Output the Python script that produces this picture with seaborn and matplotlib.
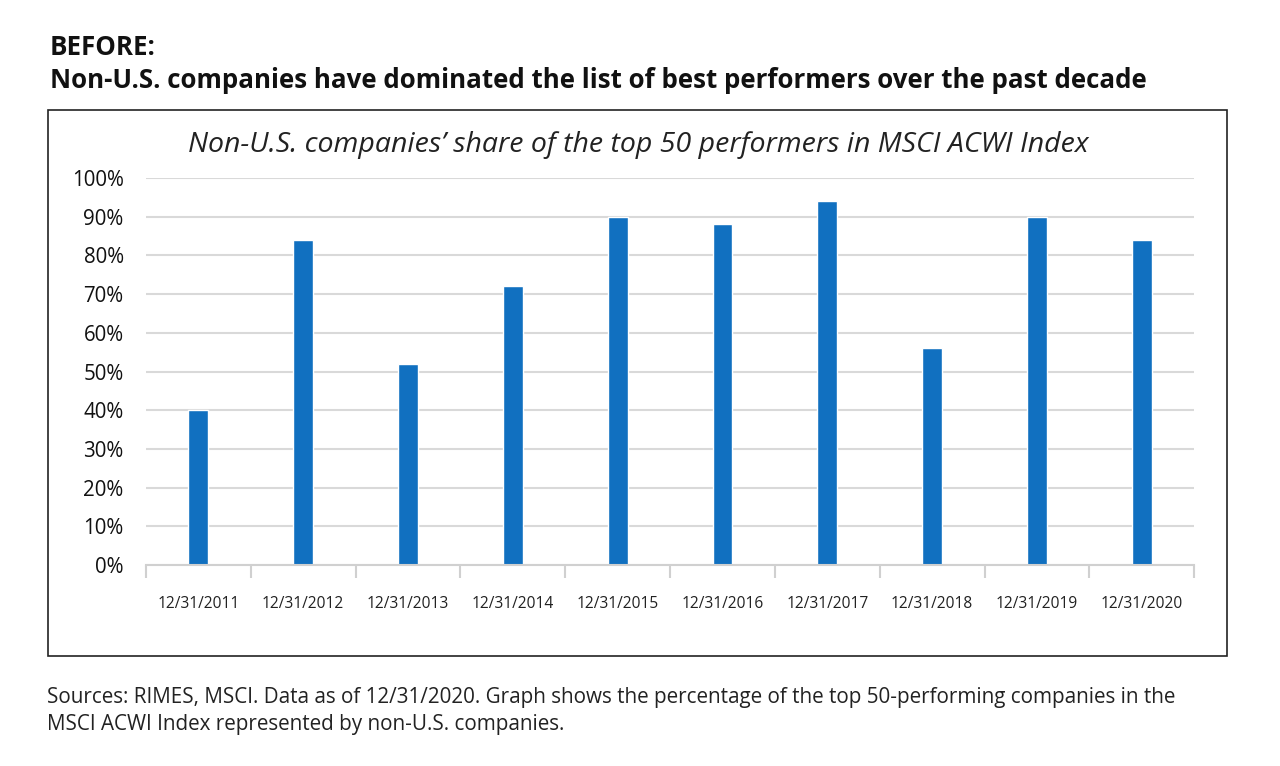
import numpy as np
import pandas as pd
import matplotlib
matplotlib.use("Agg")
import matplotlib.pyplot as plt
import seaborn as sns
from matplotlib.patches import Rectangle
from matplotlib.ticker import PercentFormatter, FixedLocator

# data
dates = ["12/31/2011", "12/31/2012", "12/31/2013", "12/31/2014", "12/31/2015",
         "12/31/2016", "12/31/2017", "12/31/2018", "12/31/2019", "12/31/2020"]
share = [0.40, 0.84, 0.52, 0.72, 0.90, 0.88, 0.94, 0.56, 0.90, 0.84]

df = pd.DataFrame({"date": dates, "share": share})

sns.set_theme(style="white")
plt.rcParams['font.family'] = ['Open Sans', 'DejaVu Sans']

fig = plt.figure(figsize=(12.8, 7.66), dpi=100)
ax = fig.add_axes([0.114, 0.2624, 0.819, 0.5052])

sns.barplot(data=df, x="date", y="share", color="#1170c0", width=0.19,
            saturation=1, ax=ax)

ax.set_ylim(0, 1.0)
ax.set_xlim(-0.5, len(dates) - 0.5)
ax.yaxis.set_major_locator(FixedLocator(np.arange(0, 1.01, 0.1)))
ax.yaxis.set_major_formatter(PercentFormatter(1.0, decimals=0))
ax.grid(axis="y", color="#d9d9d9", linewidth=1.5)
ax.set_axisbelow(True)
for s in ["top", "right", "left"]:
    ax.spines[s].set_visible(False)
ax.spines["bottom"].set_color("#d0d0d0")
ax.spines["bottom"].set_linewidth(1.5)

# small separator ticks between the date categories
ax.set_xticks(np.arange(-0.5, len(dates), 1.0), minor=True)
ax.tick_params(axis="x", which="minor", length=9, width=1.5, color="#d0d0d0",
               bottom=True)
ax.tick_params(axis="x", which="major", length=0, pad=22, labelsize=11.2,
               labelcolor="#222222")
ax.tick_params(axis="y", length=0, pad=16, labelsize=14.8, labelcolor="#111111")
ax.set_xlabel("")
ax.set_ylabel("")

ax.set_title("Non-U.S. companies\u2019 share of the top 50 performers in MSCI ACWI Index",
             fontsize=20.5, style="italic", color="#222222", pad=19, x=0.47)

# frame around the chart
fig.patches.append(Rectangle((0.0375, 0.1436), 0.9211, 0.7128, transform=fig.transFigure,
                             fill=False, edgecolor="#222222", linewidth=1.2))

fig.text(0.039, 0.928, "BEFORE:", fontsize=18.6, fontweight="bold", color="#111111")
fig.text(0.039, 0.885, "Non-U.S. companies have dominated the list of best performers over the past decade",
         fontsize=18.6, fontweight="bold", color="#111111")

fig.text(0.037, 0.082, "Sources: RIMES, MSCI. Data as of 12/31/2020. Graph shows the percentage of the top 50-performing companies in the",
         fontsize=14.9, color="#222222")
fig.text(0.037, 0.047, "MSCI ACWI Index represented by non-U.S. companies.",
         fontsize=14.9, color="#222222")

fig.savefig("out.png", dpi=100)
